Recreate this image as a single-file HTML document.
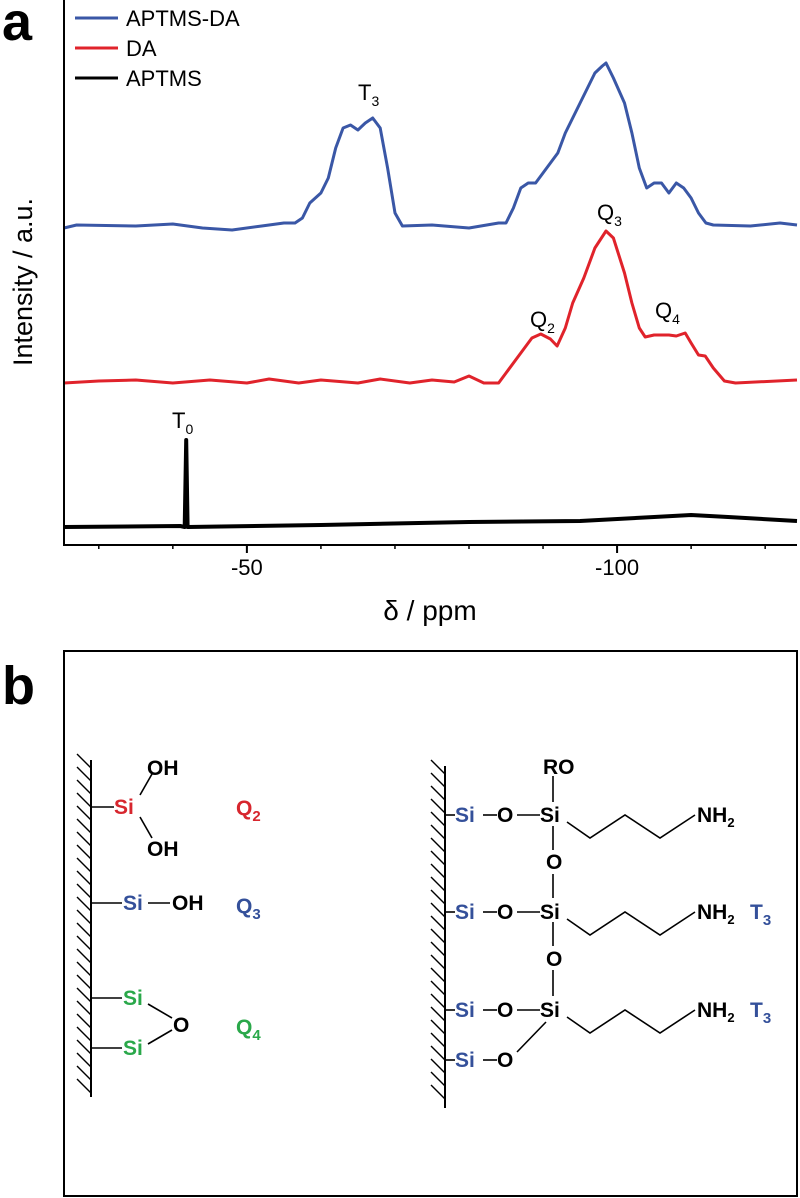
<!DOCTYPE html>
<html><head><meta charset="utf-8"><style>
body{margin:0;background:#fff;}
svg{display:block;font-family:"Liberation Sans",sans-serif;}
.sch text{font-size:21px;font-weight:bold;}
</style></head><body>
<svg id="fig" width="800" height="1198" viewBox="0 0 800 1198">
<text x="2" y="40" font-size="54" font-weight="bold">a</text>
<g id="chart"></g>
<text x="2" y="704" font-size="54" font-weight="bold">b</text>
<rect x="64" y="651" width="733" height="545" fill="none" stroke="#000" stroke-width="2"/>
<g class="sch">
 <g id="walls" stroke="#000" stroke-width="2" fill="none"></g>
 <g stroke="#000" stroke-width="1.6" fill="none">
  <line x1="91" y1="807" x2="114" y2="807"/><line x1="140" y1="795" x2="152" y2="774"/><line x1="140" y1="817" x2="152" y2="838"/>
  <line x1="91" y1="903" x2="122" y2="903"/><line x1="148" y1="903" x2="170" y2="903"/>
  <line x1="91" y1="998" x2="122" y2="998"/><line x1="91" y1="1048" x2="122" y2="1048"/>
  <line x1="148" y1="1004" x2="172" y2="1018"/><line x1="148" y1="1044" x2="172" y2="1030"/>
  <line x1="445" y1="815" x2="455" y2="815"/><line x1="483" y1="815" x2="497" y2="815"/><line x1="517" y1="815" x2="540" y2="815"/>
  <line x1="553" y1="776" x2="553" y2="802"/><line x1="553" y1="826" x2="553" y2="850"/><line x1="553" y1="874" x2="553" y2="898"/>
  <line x1="553" y1="922" x2="553" y2="946"/><line x1="553" y1="970" x2="553" y2="996"/>
  <polyline points="567,822 590,838 625,815 660,838 695,815"/>
  <line x1="445" y1="912" x2="455" y2="912"/><line x1="483" y1="912" x2="497" y2="912"/><line x1="517" y1="912" x2="540" y2="912"/>
  <polyline points="567,919 590,935 625,912 660,935 695,912"/>
  <line x1="445" y1="1010" x2="455" y2="1010"/><line x1="483" y1="1010" x2="497" y2="1010"/><line x1="517" y1="1010" x2="540" y2="1010"/>
  <polyline points="567,1017 590,1033 625,1010 660,1033 695,1010"/>
  <line x1="445" y1="1060" x2="455" y2="1060"/><line x1="483" y1="1060" x2="497" y2="1060"/><line x1="546" y1="1022" x2="517" y2="1052"/>
 </g>
 <text x="114" y="814" fill="#d7262e">Si</text><text x="147" y="775">OH</text><text x="147" y="856">OH</text>
 <text x="236" y="815" fill="#d7262e" font-size="24">Q<tspan font-size="15" dy="6">2</tspan></text>
 <text x="123" y="910" fill="#34509a">Si</text><text x="172" y="910">OH</text>
 <text x="236" y="913" fill="#34509a" font-size="24">Q<tspan font-size="15" dy="6">3</tspan></text>
 <text x="123" y="1005" fill="#2aa84a">Si</text><text x="123" y="1055" fill="#2aa84a">Si</text><text x="173" y="1032">O</text>
 <text x="236" y="1034" fill="#2aa84a" font-size="24">Q<tspan font-size="15" dy="6">4</tspan></text>
 <text x="543" y="774">RO</text>
 <text x="455" y="822" fill="#34509a">Si</text><text x="497" y="822">O</text><text x="540" y="822">Si</text><text x="546" y="869">O</text>
 <text x="697" y="822">NH<tspan font-size="13" dy="5">2</tspan></text>
 <text x="455" y="919" fill="#34509a">Si</text><text x="497" y="919">O</text><text x="540" y="919">Si</text><text x="546" y="966">O</text>
 <text x="697" y="919">NH<tspan font-size="13" dy="5">2</tspan></text><text x="750" y="919" fill="#34509a" font-size="24">T<tspan font-size="15" dy="6">3</tspan></text>
 <text x="455" y="1017" fill="#34509a">Si</text><text x="497" y="1017">O</text><text x="540" y="1017">Si</text>
 <text x="697" y="1017">NH<tspan font-size="13" dy="5">2</tspan></text><text x="750" y="1017" fill="#34509a" font-size="24">T<tspan font-size="15" dy="6">3</tspan></text>
 <text x="455" y="1067" fill="#34509a">Si</text><text x="497" y="1067">O</text>
</g>
</svg>
<script>
const ppmBlue=[-25.3,-27,-35,-40,-44,-48,-52,-55,-56.5,-57.5,-58.5,-60,-61,-62,-63,-64,-65,-66,-67,-68,-69,-70,-71,-75,-80,-84,-85,-86,-87,-88,-89,-90,-91,-92,-93,-94,-95,-96,-97,-98,-98.5,-99.5,-101,-102,-103,-104,-105,-106,-107,-108,-109,-110,-111,-112,-113,-118,-122,-124.3];
const valBlue=[0,3,2,4,0,-2,2,5,5,10,25,35,50,80,100,103,98,105,110,100,60,15,2,3,0,5,5,20,40,45,45,55,65,75,95,110,125,140,155,162,165,150,125,95,60,40,45,45,35,45,40,30,15,5,3,2,5,3];
const ppmRed=[-25.3,-30,-35,-40,-45,-50,-53,-57,-60,-65,-68,-72,-75,-78,-80,-82,-84,-85,-87,-88.5,-89.7,-91,-91.9,-93,-94,-95.5,-97,-98.5,-99.5,-101,-102,-103,-103.8,-105,-107,-108,-109.2,-110,-111,-111.9,-113,-114.5,-116,-124.3];
const valRed=[0,2,3,0,3,0,4,0,3,0,4,0,3,1,7,0,0,10,30,45,49,44,37,55,80,105,135,152,145,110,80,55,46,48,48,47,50,40,28,27,15,2,0,3];
const ppmBlack=[-25.3,-41,-41.6,-41.8,-42,-60,-80,-95,-105,-110,-115,-124.3];
const valBlack=[0,1,0,87,0,2,5,6,10,12,10,6];
const tickVals=[-50,-100];
const tickLabels=["-50","-100"];
const seriesNames=["APTMS-DA","DA","APTMS"];
const NS="http://www.w3.org/2000/svg";
const X0=64,X1=797,AX=545,PMIN=-25.3,PMAX=-124.3;
function xs(p){return X0+(p-PMIN)/(PMAX-PMIN)*(X1-X0);}
function ys(base,v){return base-v;}
const g=document.getElementById('chart');
function mk(t,a){const e=document.createElementNS(NS,t);for(const k in a)e.setAttribute(k,a[k]);g.appendChild(e);return e;}
function series(ppm,val,base,col,w,name){
 const pts=ppm.map((p,i)=>xs(p).toFixed(1)+','+ys(base,val[i]).toFixed(1)).join(' ');
 const e=mk('polyline',{points:pts,fill:'none',stroke:col,'stroke-width':w,'stroke-linejoin':'round'});
 
 
}
series(ppmBlue,valBlue,228,'#3a57a6',3,'series-aptms-da');
series(ppmRed,valRed,383,'#e0232b',3,'series-da');
series(ppmBlack,valBlack,527,'#000',4,'series-aptms');
let ax=mk('line',{x1:X0,y1:0,x2:X0,y2:AX,stroke:'#000','stroke-width':2});

let bx=mk('line',{x1:X0-1,y1:AX,x2:X1,y2:AX,stroke:'#000','stroke-width':2});

for(let p=-30;p>=-120;p-=10){const m=mk('line',{x1:xs(p),y1:AX,x2:xs(p),y2:AX+4,stroke:'#000','stroke-width':1.5});
 }
tickVals.forEach((v,i)=>{
 const t=mk('line',{x1:xs(v),y1:AX,x2:xs(v),y2:AX+8,stroke:'#000','stroke-width':2});
 
 const l=mk('text',{x:xs(v),y:AX+30,'font-size':22,'text-anchor':'middle'});l.textContent=tickLabels[i];
 
});
let xt=mk('text',{x:430,y:620,'font-size':28,'text-anchor':'middle'});xt.textContent='δ / ppm';

let yt=mk('text',{x:0,y:0,'font-size':27,'text-anchor':'middle',transform:'translate(32,282) rotate(-90)'});yt.textContent='Intensity / a.u.';

const legCols=['#3a57a6','#e0232b','#000'];const legY=[18,48,78];
seriesNames.forEach((n,i)=>{
 const l=mk('line',{x1:75,y1:legY[i],x2:118,y2:legY[i],stroke:legCols[i],'stroke-width':3});
 
 const t=mk('text',{x:126,y:legY[i]+8,'font-size':22});t.textContent=n;
 
});
function peak(x,y,s,sub,name){const t=mk('text',{x:x,y:y,'font-size':22});t.textContent=s;
 const ts=document.createElementNS(NS,'tspan');ts.setAttribute('font-size','14');ts.setAttribute('dy','6');ts.textContent=sub;t.appendChild(ts);
 }
peak(358,100,'T','3','peak-label-t3');
peak(597,220,'Q','3','peak-label-q3');
peak(530,327,'Q','2','peak-label-q2');
peak(655,318,'Q','4','peak-label-q4');
peak(172,428,'T','0','peak-label-t0');
const W=document.getElementById('walls');
function wall(x,y0,y1){const l=document.createElementNS(NS,'line');l.setAttribute('x1',x);l.setAttribute('y1',y0);l.setAttribute('x2',x);l.setAttribute('y2',y1);W.appendChild(l);
 for(let y=y0+4;y<y1-4;y+=13){const h=document.createElementNS(NS,'line');h.setAttribute('x1',x-14);h.setAttribute('y1',y-10);h.setAttribute('x2',x);h.setAttribute('y2',y+4);h.setAttribute('stroke-width','1.4');W.appendChild(h);}}
wall(91,760,1097);wall(445,766,1108);
</script>
</body></html>
